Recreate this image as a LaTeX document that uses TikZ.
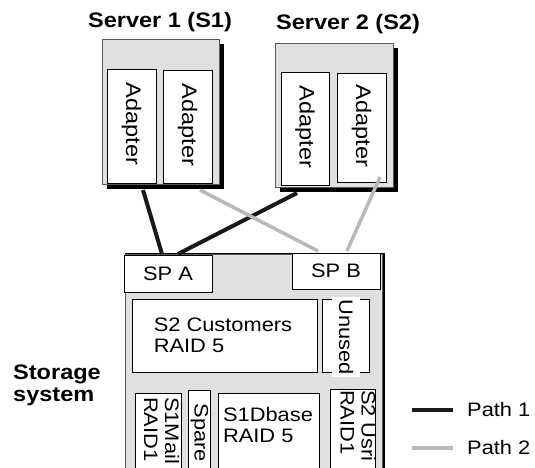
\documentclass[tikz,border=0pt]{standalone}
\usepackage{fontspec}
\setmainfont[FakeStretch=1.12]{Liberation Sans}
\usetikzlibrary{calc}
\definecolor{boxgray}{RGB}{224,224,224}
\definecolor{pathgray}{RGB}{185,185,185}
\definecolor{edgegray}{RGB}{90,90,90}
\begin{document}
\begin{tikzpicture}[x=1pt,y=-1pt,
  lbl/.style={font=\fontsize{19.5}{21}\selectfont, align=left, inner sep=0},
  adlbl/.style={font=\fontsize{21}{22}\selectfont, inner sep=0, rotate=-90},
  ttl/.style={font=\fontsize{21}{22}\selectfont\bfseries, align=left, inner sep=0},
  srv/.style={draw=edgegray, fill=boxgray, line width=0.8},
  wbox/.style={draw=black, fill=white, line width=0.8},
  pathone/.style={draw=black!90, line width=4},
  pathtwo/.style={draw=pathgray, line width=3.5}]
\useasboundingbox (0,0) rectangle (535,468);
\clip (0,0) rectangle (535,468);
\fill[white] (0,0) rectangle (535,468);

% titles
\node[ttl] (t1) at (160,22) {Server 1 (S1)};
\node[ttl] (t2) at (348,24) {Server 2 (S2)};

% server 1
\fill[black] (107,44) rectangle (224,189);
\draw[srv] (102,39) rectangle (219,184);
\draw[wbox] (107,69) rectangle (156,183);
\draw[wbox] (163,70) rectangle (212,183);
\node[adlbl] (s1a1) at (131.5,124) {Adapter};
\node[adlbl] (s1a2) at (187.5,125) {Adapter};
\coordinate (s1a1b) at (131.5,183);
\coordinate (s1a2b) at (187.5,183);

% server 2
\fill[black] (280,48) rectangle (398,192);
\draw[srv] (275,43) rectangle (393,187);
\draw[wbox] (281,72) rectangle (329,185);
\draw[wbox] (337,73) rectangle (386,182);
\node[adlbl] (s2a1) at (305,127) {Adapter};
\node[adlbl] (s2a2) at (361.5,126) {Adapter};
\coordinate (s2a1b) at (305,185);
\coordinate (s2a2b) at (361.5,182);

% storage system
\fill[black] (125,252.5) rectangle (385,475);
\draw[draw=edgegray, fill=boxgray, line width=0.8] (125,254) rectangle (382,475);
\draw[wbox] (124,255) rectangle (212,292);
\node[lbl] (spa) at (168,273.5) {SP A};
\draw[wbox] (292,253) rectangle (380,289);
\node[lbl] (spb) at (336,271) {SP B};
\coordinate (spatop) at (168,255);
\coordinate (spbtop) at (336,253);

\draw[wbox] (132,299) rectangle (317,372);
\node[lbl] (cust) at (223,335) {S2 Customers\\RAID 5};
\draw[wbox] (322,299) rectangle (369,372);
\node[lbl, rotate=-90, fill=white, minimum width=80, minimum height=28] (unused) at (346,337) {Unused};

\draw[wbox] (135,393) rectangle (181,475);
\node[lbl, rotate=-90, anchor=north west] (mail) at (179.5,397) {S1Mail\\RAID1};
\draw[wbox] (188,390) rectangle (210,475);
\node[lbl, rotate=-90] (spare) at (199.5,433) {Spare};
\draw[wbox] (218,393) rectangle (319,475);
\node[lbl] (dbase) at (268,425) {S1Dbase\\RAID 5};
\draw[wbox] (330,389) rectangle (375,475);
\node[lbl, rotate=-90, anchor=north west] (usr) at (376,390) {S2 Usri\\RAID1};

\node[ttl] (stor) at (57,385) {Storage\\system};

% paths
\draw[pathone] ($(s1a1b)+(11.5,7)$) -- ($(spatop)+(-6,-1)$);
\draw[pathone] ($(s2a1b)+(-8,8)$) -- ($(spatop)+(10,-1)$);
\draw[pathtwo] ($(s1a2b)+(12.5,7)$) -- ($(spbtop)+(-18,-2)$);
\draw[pathtwo] ($(s2a2b)+(18.5,-5)$) -- ($(spbtop)+(11,-2)$);

% legend
\coordinate (l1a) at (412,410);
\coordinate (l1b) at (453,410);
\coordinate (l2a) at (412,448);
\coordinate (l2b) at (453,448);
\draw[pathone] (l1a) -- (l1b);
\draw[pathtwo, line width=4] (l2a) -- (l2b);
\node[lbl, anchor=west] (p1) at (467,410) {Path 1};
\node[lbl, anchor=west] (p2) at (467,448) {Path 2};
\end{tikzpicture}
\end{document}
